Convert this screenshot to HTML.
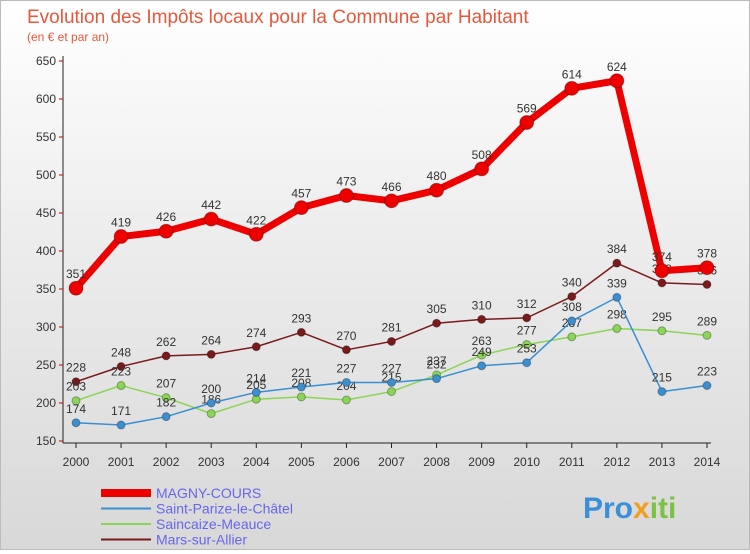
<!DOCTYPE html>
<html><head><meta charset="utf-8"><style>
body{margin:0;width:750px;height:550px;overflow:hidden;font-family:"Liberation Sans",sans-serif}
#wrap{position:relative;width:748px;height:548px;border:1px solid #bbb;background:linear-gradient(180deg,#fff 0%,#eee 40%,#d8d8d8 100%)}
</style></head><body>
<div id="wrap">
<svg width="748" height="548" id="svg" font-family="Liberation Sans, sans-serif">
<text x="26" y="22" font-size="19" fill="#e8573a">Evolution des Impôts locaux pour la Commune par Habitant</text>
<text x="26" y="40" font-size="12" fill="#e8573a">(en € et par an)</text>
<g id="axes"></g><g id="series"></g><g id="legend"></g>
<text x="582" y="517" font-size="30" font-weight="bold" fill="#3a8fd8">Pro<tspan fill="#f0a020">x</tspan><tspan fill="#7cc242">iti</tspan></text>
</svg>
</div>
<script>
const years=[2000,2001,2002,2003,2004,2005,2006,2007,2008,2009,2010,2011,2012,2013,2014];
const yTicks=[150,200,250,300,350,400,450,500,550,600,650];
const magny=[351,419,426,442,422,457,473,466,480,508,569,614,624,374,378];
const parize=[174,171,182,200,214,221,227,227,232,249,253,308,339,215,223];
const saincaize=[203,223,207,186,205,208,204,215,237,263,277,287,298,295,289];
const mars=[228,248,262,264,274,293,270,281,305,310,312,340,384,358,356];
const NS="http://www.w3.org/2000/svg";
const X=i=>75+i*(631/14);
const Y=v=>440-(v-150)*0.76;
function mk(t,a,p){const e=document.createElementNS(NS,t);for(const k in a)e.setAttribute(k,a[k]);p.appendChild(e);return e;}
const ax=document.getElementById('axes');
let l=mk('line',{x1:62,y1:55,x2:62,y2:442,stroke:'#222'},ax);


l=mk('line',{x1:62,y1:442,x2:710,y2:442,stroke:'#222'},ax);


yTicks.forEach(v=>{
 mk('line',{x1:58,y1:Y(v),x2:62,y2:Y(v),stroke:'#c00'},ax);
 const t=mk('text',{x:55,y:Y(v)+4,'text-anchor':'end','font-size':12,fill:'#333'},ax);
 t.textContent=v;
 
 
});
years.forEach((y,i)=>{
 mk('line',{x1:X(i),y1:442,x2:X(i),y2:447,stroke:'#222'},ax);
 const t=mk('text',{x:X(i),y:465,'text-anchor':'middle','font-size':12,fill:'#333'},ax);
 t.textContent=y;
 
 
});
const sg=document.getElementById('series');
function series(data,color,w,r,name){
 const g=mk('g',{},sg);
 
 
 const p=mk('polyline',{points:data.map((v,i)=>X(i)+','+Y(v)).join(' '),fill:'none',stroke:color,'stroke-width':w,'stroke-linejoin':'round'},g);
 
 
 data.forEach((v,i)=>{
  const c=mk('circle',{cx:X(i),cy:Y(v),r:r,fill:color,stroke:'rgba(0,0,0,0.3)'},g);
  
  
  const t=mk('text',{x:X(i),y:Y(v)-10,'text-anchor':'middle','font-size':12,fill:'#333'},g);
  t.textContent=v;
  
  
 });
}
series(mars,'#7a1a1a',1.5,4,'mars-sur-allier');
series(saincaize,'#8ad456',1.5,4,'saincaize-meauce');
series(parize,'#3b8fd0',1.5,4,'saint-parize');
series(magny,'#ee0000',7,7,'magny-cours');
const lg=document.getElementById('legend');
const items=[['MAGNY-COURS','#ee0000',8],['Saint-Parize-le-Châtel','#3b8fd0',2],['Saincaize-Meauce','#8ad456',2],['Mars-sur-Allier','#7a1a1a',2]];
items.forEach((it,i)=>{
 const y=492+i*15.5;
 const g=mk('g',{},lg);
 
 
 mk('line',{x1:100,y1:y,x2:150,y2:y,stroke:it[1],'stroke-width':it[2]},g);
 const t=mk('text',{x:155,y:y+5,'font-size':14,fill:'#6666ee'},g);
 t.textContent=it[0];
 
 
});
</script>
</body></html>
